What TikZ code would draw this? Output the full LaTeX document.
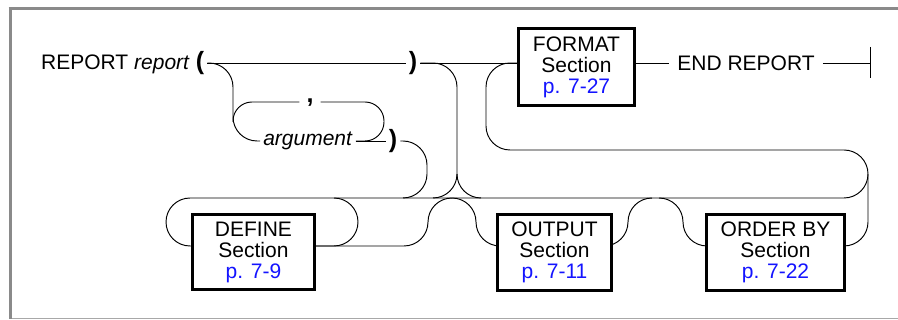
\documentclass[tikz,border=0pt]{standalone}
\usepackage{fontspec}
\setmainfont{Liberation Sans}
\pgfdeclarelayer{bg}
\pgfsetlayers{bg,main}
\definecolor{framegray}{HTML}{8A8A8A}
\definecolor{framelight}{HTML}{A8A8A8}
\definecolor{pageblue}{HTML}{1414FF}
\begin{document}
\begin{tikzpicture}[x=1pt,y=-1pt,
  track/.style={line width=0.95pt, rounded corners=24pt},
  secbox/.style={draw, line width=3pt, fill=white, align=center, inner sep=0pt,
                 font=\fontsize{21}{21}\selectfont},
  lbl/.style={inner sep=0pt, font=\fontsize{21}{21}\selectfont},
  paren/.style={inner ysep=0pt, inner xsep=3pt, font=\fontsize{25}{25}\selectfont\bfseries}]
\useasboundingbox (0,0) rectangle (898,320);
% frame
\draw[framegray, line width=3pt] (8.5,9) -- (898,9);
\draw[framegray, line width=3pt] (10,7.5) -- (10,319);
\draw[framelight, line width=1.8pt] (11.5,318.6) -- (898,318.6);
% rows
\coordinate (ym) at (0,63);
\coordinate (yc) at (0,102);
\coordinate (ya) at (0,141);
\coordinate (yt) at (0,198);
\coordinate (yb) at (0,246);
% nodes
\node[lbl, anchor=base west] (rep) at (41,70) {REPORT \textit{report}};
\node[paren] (lp) at (200,63) {(};
\node[paren] (rp1) at (413,63) {)};
\node[lbl, anchor=base, inner xsep=7pt, font=\fontsize{25}{25}\selectfont\bfseries] (comma) at (310,103) {,};
\node[lbl, anchor=base, inner xsep=3pt] (arg) at (308,146) {\textit{argument}};
\node[paren] (rp2) at (393,141) {)};
\node[secbox, minimum width=116pt, minimum height=77pt] (fmt) at (576.5,67)
  {FORMAT\\Section\\\textcolor{pageblue}{p. 7-27}};
\node[lbl, inner xsep=8pt] (endrep) at (746,63) {END REPORT};
\coordinate (endbar) at (870,63);
\node[secbox, minimum width=122pt, minimum height=75pt] (def) at (253.5,252)
  {DEFINE\\Section\\\textcolor{pageblue}{p. 7-9}};
\node[secbox, minimum width=114pt, minimum height=76pt] (out) at (554.5,252.5)
  {OUTPUT\\Section\\\textcolor{pageblue}{p. 7-11}};
\node[secbox, minimum width=138pt, minimum height=76pt] (ord) at (775.5,252.5)
  {ORDER BY\\Section\\\textcolor{pageblue}{p. 7-22}};
% junction coordinates
\coordinate (argjoin) at (403,198);
\coordinate (mainjoin) at (433,198);
\coordinate (splitpt) at (457,174);
\coordinate (defback) at (334,198);
\coordinate (defout) at (452,198);
\coordinate (outback) at (652,198);
\coordinate (ordin) at (659,198);
\coordinate (commaend) at (233,122);
\begin{pgfonlayer}{bg}
% main line
\draw[track] (lp.east) -- (rp1.west);
\draw[track] (rp1.east) -- (fmt.west |- ym);
\draw[track] (fmt.east |- ym) -- (endrep.west);
\draw[track] (endrep.east) -- (endbar);
\draw[line width=0.95pt] (endbar) ++(0,-16) -- ++(0,31);
% argument list
\draw[track] (lp.east) -| (233,141) -- (arg.west |- ya);
\draw[track] (arg.east |- ya) -- (rp2.west);
\draw[track, rounded corners=19pt] (arg.east |- ya) -- (384,141) -- (384,102) -- (comma.east |- yc);
\draw[track, rounded corners=19pt] (comma.west |- yc) -- (233,102) -- (commaend);
% down to the lower row
\draw[track] (rp2.east) -- (427,141) -- (427,198) -- (argjoin);
\draw[track] (rp1.east) -- (457,63) -- (457,198) -- (mainjoin);
\draw[track] (splitpt) -- (457,198) -- (481,198);
% lower row
\draw[track] (def.west |- yb) -- (166,246) -- (166,198) -- (868,198) -- (868,174);
\draw[track] (def.east |- yb) -- (358,246) -- (358,198) -- (defback);
\draw[track] (def.east |- yb) -- (428,246) -- (428,198) -- (defout);
\draw[track] (defout) -- (476,198) -- (476,246) -- ([xshift=4pt]out.west |- yb);
\draw[track] ([xshift=-10pt]out.east |- yb) -- (628,246) -- (628,198) -- (outback);
\draw[track] (ordin) -- (683,198) -- (683,246) -- ([xshift=4pt]ord.west |- yb);
\draw[track] ([xshift=-4pt]ord.east |- yb) -- (868,246) -- (868,150) -- (486,150) -- (486,63) -- (fmt.west |- ym);
\end{pgfonlayer}
\end{tikzpicture}
\end{document}
